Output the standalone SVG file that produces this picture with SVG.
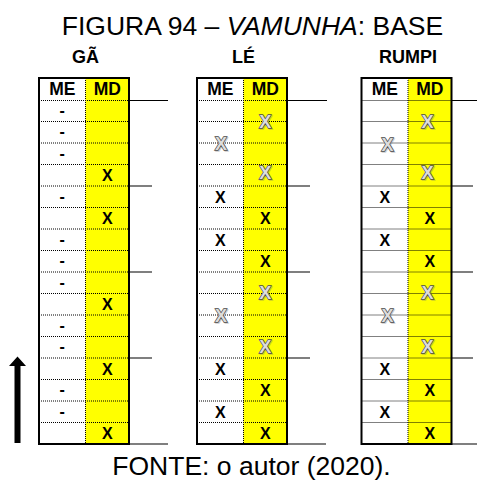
<svg xmlns="http://www.w3.org/2000/svg" xmlns:xlink="http://www.w3.org/1999/xlink" width="477" height="481" viewBox="0 0 477 481">
<style>
text{font-family:"Liberation Sans",Arial,sans-serif}
.title{font-size:26.5px;fill:#000}
.lab{font-size:18px;font-weight:bold;text-anchor:middle}
.hd{font-size:17.5px;font-weight:bold;text-anchor:middle}
.x{font-size:16px;font-weight:bold;text-anchor:middle}
.gx{font-size:18px;font-weight:bold;text-anchor:middle;fill:#dcdcdc;stroke:#4a4a4a;stroke-width:1.4;paint-order:stroke}
.gs{font-size:18px;font-weight:bold;text-anchor:middle;fill:#777;stroke:#777;stroke-width:1.4;opacity:0.35}
.border{fill:none;stroke:#000;stroke-width:2}
.dot{fill:none;stroke:#000;stroke-width:1;stroke-dasharray:1 1}
.rl{stroke:#000;stroke-width:1.2}
.md{fill:#ffff00}
</style>
<defs>
<g id="grid">
<rect class="md" x="46.5" y="78" width="43.5" height="366"/>
<path class="dot" d="M0 100.5H90M0 121.5H90M0 143H90M0 164.5H90M0 186H90M0 207.5H90M0 229H90M0 250.5H90M0 272H90M0 293.5H90M0 315H90M0 336.5H90M0 358H90M0 379.5H90M0 401H90M0 422.5H90M46.5 78V444"/>
<rect class="border" x="0" y="78" width="90" height="366"/>
<text class="hd" x="23.25" y="95">ME</text>
<text class="hd" x="68.25" y="95">MD</text>
</g>
<g id="gxs"><text class="gs" x="1" y="1.5">X</text><text class="gx" x="0" y="0">X</text></g>
</defs>
<text class="title" x="252.5" y="35" text-anchor="middle">FIGURA 94 – <tspan font-style="italic">VAMUNHA</tspan>: BASE</text>
<g id="gan" transform="translate(39,0)">
<text class="lab" x="46.5" y="63">GÃ</text>
<use xlink:href="#grid"/>
<g class="x">
<text x="23.25" y="115.5">-</text>
<text x="23.25" y="137">-</text>
<text x="23.25" y="158.5">-</text>
<text x="68.25" y="181">X</text>
<text x="23.25" y="201.5">-</text>
<text x="68.25" y="224">X</text>
<text x="23.25" y="244.5">-</text>
<text x="23.25" y="266">-</text>
<text x="23.25" y="287.5">-</text>
<text x="68.25" y="310">X</text>
<text x="23.25" y="330.5">-</text>
<text x="23.25" y="352">-</text>
<text x="68.25" y="374.5">X</text>
<text x="23.25" y="395">-</text>
<text x="23.25" y="416.5">-</text>
<text x="68.25" y="439">X</text>
</g>
</g>
<g id="le" transform="translate(197,0)">
<text class="lab" x="46.5" y="63">LÉ</text>
<use xlink:href="#grid"/>
<use xlink:href="#gxs" x="68.25" y="127.5"/>
<use xlink:href="#gxs" x="24" y="149.5"/>
<use xlink:href="#gxs" x="68.25" y="178.5"/>
<use xlink:href="#gxs" x="68.25" y="298.5"/>
<use xlink:href="#gxs" x="24" y="321.5"/>
<use xlink:href="#gxs" x="68.25" y="352.5"/>
<g class="x">
<text x="23.25" y="202.5">X</text>
<text x="68.25" y="224">X</text>
<text x="23.25" y="245.5">X</text>
<text x="68.25" y="267">X</text>
<text x="23.25" y="374.5">X</text>
<text x="68.25" y="396">X</text>
<text x="23.25" y="417.5">X</text>
<text x="68.25" y="439">X</text>
</g>
</g>
<g id="rumpi" transform="translate(361.5,0)">
<text class="lab" x="46.5" y="63">RUMPI</text>
<use xlink:href="#grid"/>
<use xlink:href="#gxs" x="66" y="127.5"/>
<use xlink:href="#gxs" x="26" y="150.5"/>
<use xlink:href="#gxs" x="66" y="178.5"/>
<use xlink:href="#gxs" x="66" y="298.5"/>
<use xlink:href="#gxs" x="26" y="321.5"/>
<use xlink:href="#gxs" x="66" y="352.5"/>
<g class="x">
<text x="23.25" y="202.5">X</text>
<text x="68.25" y="224">X</text>
<text x="23.25" y="245.5">X</text>
<text x="68.25" y="267">X</text>
<text x="23.25" y="374.5">X</text>
<text x="68.25" y="396">X</text>
<text x="23.25" y="417.5">X</text>
<text x="68.25" y="439">X</text>
</g>
</g>
<g id="connectors">
<path class="rl" d="M129 100.5H168M129 186H152M129 272H152M129 358H152M129 444H168"/>
<path class="rl" d="M287 100.5H327M287 186H310M287 272H310M287 358H310M287 444H326"/>
<path class="rl" d="M451.5 100.5H477M451.5 186H473M451.5 272H473M451.5 358H473M451.5 444H477"/>
</g>
<g id="arrow">
<path d="M14.5 443V366H9L17.5 356.5L26 366H20.5V443Z" fill="#000"/>
</g>
<text class="title" x="251.5" y="474.5" text-anchor="middle">FONTE: o autor (2020).</text>
</svg>
